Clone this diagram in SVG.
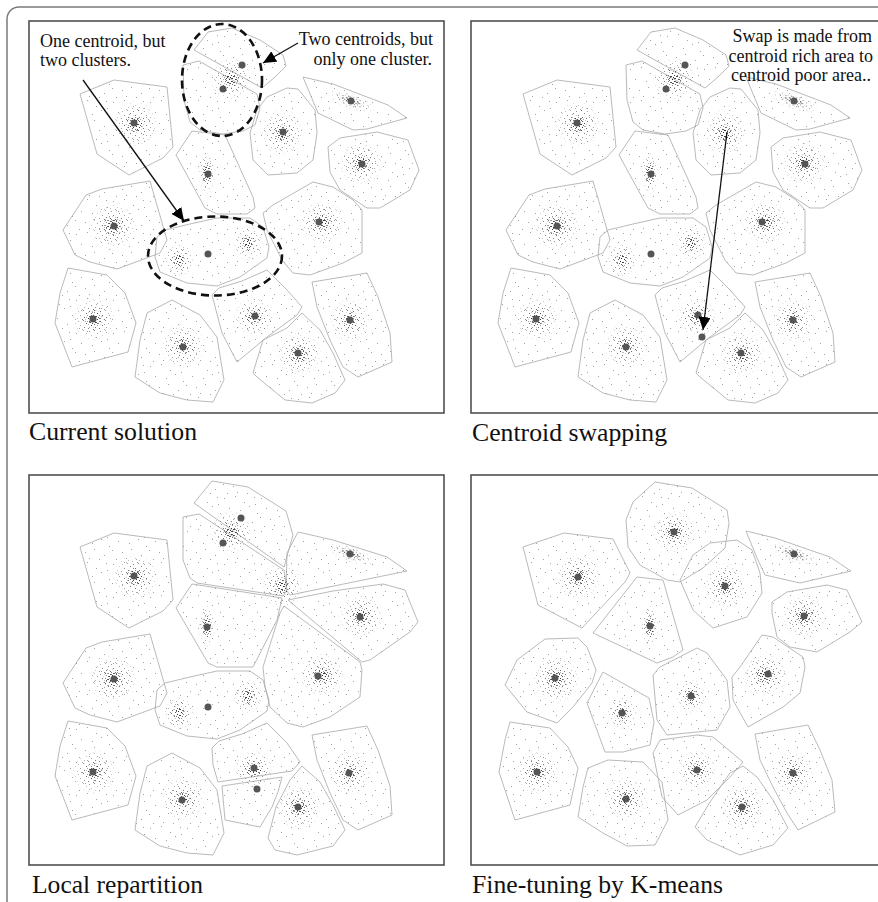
<svg xmlns="http://www.w3.org/2000/svg" xmlns:xlink="http://www.w3.org/1999/xlink" width="878" height="902" viewBox="0 0 878 902">
<style>
.outer{fill:none;stroke:#7a7a7a;stroke-width:1.5}
.panel{fill:#fff;stroke:#505050;stroke-width:1.6}
.cell{fill:url(#sp);stroke:#a8a8a8;stroke-width:0.8;stroke-linejoin:round}
.halo{fill:url(#md);mask:url(#fade)}
.core{fill:url(#dn);mask:url(#fade)}
.cen{fill:#555}
.lbl{font-family:"Liberation Serif","Times New Roman",serif;font-size:25.5px;fill:#111}
.ann{font-family:"Liberation Serif","Times New Roman",serif;font-size:18px;fill:#111}
.dash{fill:none;stroke:#111;stroke-width:2.6;stroke-dasharray:8 5}
.arr{fill:none;stroke:#111;stroke-width:1.3;marker-end:url(#ah)}
</style>
<defs>
<pattern id="sp" width="37" height="33" patternUnits="userSpaceOnUse">
<path fill="#a2a2a2" d="M2 3h1v1h-1zM13 1h1v1h-1zM22 7h1v1h-1zM32 2h1v1h-1zM7 13h1v1h-1zM18 15h1v1h-1zM27 11h1v1h-1zM35 18h1v1h-1zM1 22h1v1h-1zM11 24h1v1h-1zM20 21h1v1h-1zM30 27h1v1h-1zM5 31h1v1h-1zM15 30h1v1h-1zM25 31h1v1h-1zM33 9h1v1h-1z"/>
</pattern>
<pattern id="md" width="11" height="10" patternUnits="userSpaceOnUse">
<path fill="#555" d="M1 1h1v1h-1zM6 0h1v1h-1zM9 3h1v1h-1zM3 5h1v1h-1zM7 7h1v1h-1zM0 8h1v1h-1zM5 9h1v1h-1z"/>
</pattern>
<pattern id="dn" width="6" height="6" patternUnits="userSpaceOnUse">
<path fill="#222" d="M1 1h1v1h-1zM4 0h1v1h-1zM3 3h1v1h-1zM5 4h1v1h-1zM0 4h1v1h-1zM2 5h1v1h-1z"/>
</pattern>
<radialGradient id="fg">
<stop offset="0" stop-color="#fff" stop-opacity="1"/>
<stop offset="0.45" stop-color="#fff" stop-opacity="0.8"/>
<stop offset="1" stop-color="#fff" stop-opacity="0"/>
</radialGradient>
<mask id="fade" maskUnits="objectBoundingBox" maskContentUnits="objectBoundingBox" x="0" y="0" width="1" height="1">
<rect width="1" height="1" fill="url(#fg)"/>
</mask>
<marker id="ah" viewBox="0 0 13 12" refX="13" refY="6" markerWidth="13" markerHeight="12" markerUnits="userSpaceOnUse" orient="auto">
<path d="M0,0 L13,6 L0,12 z" fill="#000"/>
</marker>
<g id="blobs">
<ellipse class="halo" cx="231" cy="79" rx="22" ry="22"/><ellipse class="core" cx="231" cy="79" rx="10" ry="10"/>
<ellipse class="halo" cx="135" cy="124" rx="24" ry="24"/><ellipse class="core" cx="135" cy="124" rx="10" ry="10"/>
<ellipse class="halo" cx="207" cy="173" rx="9" ry="22"/><ellipse class="core" cx="207" cy="173" rx="6" ry="13"/>
<ellipse class="halo" cx="282" cy="133" rx="22" ry="24"/><ellipse class="core" cx="282" cy="133" rx="9" ry="10"/>
<ellipse class="halo" cx="351" cy="101" rx="26" ry="9" transform="rotate(20 351 101)"/><ellipse class="core" cx="351" cy="101" rx="13" ry="6" transform="rotate(20 351 101)"/>
<ellipse class="halo" cx="361" cy="163" rx="23" ry="23"/><ellipse class="core" cx="361" cy="163" rx="10" ry="10"/>
<ellipse class="halo" cx="322" cy="222" rx="24" ry="22"/><ellipse class="core" cx="322" cy="222" rx="11" ry="9"/>
<ellipse class="halo" cx="248" cy="243" rx="16" ry="18"/><ellipse class="core" cx="248" cy="243" rx="7" ry="9"/>
<ellipse class="halo" cx="113" cy="226" rx="25" ry="25"/><ellipse class="core" cx="113" cy="226" rx="11" ry="11"/>
<ellipse class="halo" cx="179" cy="260" rx="16" ry="18"/><ellipse class="core" cx="179" cy="260" rx="7" ry="9"/>
<ellipse class="halo" cx="94" cy="319" rx="23" ry="23"/><ellipse class="core" cx="94" cy="319" rx="10" ry="10"/>
<ellipse class="halo" cx="183" cy="346" rx="23" ry="23"/><ellipse class="core" cx="183" cy="346" rx="9" ry="9"/>
<ellipse class="halo" cx="254" cy="317" rx="21" ry="20"/><ellipse class="core" cx="254" cy="317" rx="10" ry="8"/>
<ellipse class="halo" cx="299" cy="354" rx="23" ry="23"/><ellipse class="core" cx="299" cy="354" rx="10" ry="10"/>
<ellipse class="halo" cx="350" cy="320" rx="21" ry="23"/><ellipse class="core" cx="350" cy="320" rx="8" ry="10"/>
</g>
<g id="cells12">
<polygon class="cell" points="80,94 114,80 167,87 173,147 163,158 129,175 97,154"/>
<polygon class="cell" points="194,50 208,32 232,28 260,40 283,55 286,66 275,77 262,88"/>
<polygon class="cell" points="183,65 199,61 257,94 260,108 255,125 243,131 222,134 200,130 190,122 184,100"/>
<polygon class="cell" points="176,155 192,131 225,135 253,197 255,208 247,214 217,214 205,208"/>
<polygon class="cell" points="257,110 267,97 287,88 298,89 315,110 317,133 313,160 297,173 268,175 253,160 250,133"/>
<polygon class="cell" points="303,77 333,84 388,105 407,118 367,129 353,130 318,113"/>
<polygon class="cell" points="328,147 340,138 377,132 408,140 419,170 410,190 380,208 367,208 340,190 330,172"/>
<polygon class="cell" points="263,213 273,205 313,182 333,187 353,200 362,210 362,253 343,263 310,275 293,273 282,260 267,230"/>
<polygon class="cell" points="63,230 86,195 102,189 150,181 167,240 160,253 117,269 90,262 75,255"/>
<polygon class="cell" points="157,237 165,230 190,224 217,218 250,218 263,227 269,247 267,258 240,277 217,286 187,283 160,272 155,257"/>
<polygon class="cell" points="68,268 107,275 125,293 136,323 128,352 72,367 55,323 60,293"/>
<polygon class="cell" points="147,313 172,300 200,315 217,337 224,380 213,402 187,400 160,393 135,377 140,340"/>
<polygon class="cell" points="212,295 219,288 242,281 267,270 287,290 302,307 297,315 267,337 237,362 222,333"/>
<polygon class="cell" points="253,373 263,340 287,328 302,313 320,330 333,353 345,380 335,393 312,403 285,400 257,377"/>
<polygon class="cell" points="312,282 367,273 378,297 390,333 392,362 358,377 343,367 330,340 317,307"/>
</g>
</defs>

<g id="outer-frame"><rect class="outer" x="7" y="7" width="885" height="910" rx="12"/></g>

<g id="panel-current">
<rect class="panel" x="29" y="21" width="415" height="392"/>
<use href="#cells12" xlink:href="#cells12"/>
<use href="#blobs" xlink:href="#blobs"/>
<g id="centroids-1">
<circle class="cen" cx="134" cy="123" r="3.5"/><circle class="cen" cx="242" cy="65" r="3.5"/><circle class="cen" cx="223" cy="89" r="3.5"/>
<circle class="cen" cx="208" cy="174" r="3.5"/><circle class="cen" cx="283" cy="132" r="3.5"/><circle class="cen" cx="351" cy="101" r="3.5"/>
<circle class="cen" cx="362" cy="164" r="3.5"/><circle class="cen" cx="319" cy="222" r="3.5"/><circle class="cen" cx="114" cy="226" r="3.5"/>
<circle class="cen" cx="208" cy="254" r="3.5"/><circle class="cen" cx="93" cy="319" r="3.5"/><circle class="cen" cx="183" cy="347" r="3.5"/>
<circle class="cen" cx="255" cy="316" r="3.5"/><circle class="cen" cx="298" cy="353" r="3.5"/><circle class="cen" cx="350" cy="320" r="3.5"/>
</g>
<ellipse id="ring-two-centroids" class="dash" cx="222" cy="80" rx="40" ry="56"/>
<ellipse id="ring-two-clusters" class="dash" cx="215" cy="256" rx="67" ry="39.5"/>
<text class="ann" x="40" y="47">One centroid, but</text>
<text class="ann" x="40" y="66">two clusters.</text>
<text class="ann" x="433" y="45" text-anchor="end">Two centroids, but</text>
<text class="ann" x="432" y="65" text-anchor="end">only one cluster.</text>
<text class="lbl" x="29" y="440" textLength="168" lengthAdjust="spacingAndGlyphs">Current solution</text>
</g>

<g id="panel-swap">
<rect class="panel" x="471" y="21" width="420" height="392"/>
<use href="#cells12" xlink:href="#cells12" transform="translate(443,0)"/>
<use href="#blobs" xlink:href="#blobs" transform="translate(443,0)"/>
<g id="centroids-2">
<circle class="cen" cx="577" cy="123" r="3.5"/><circle class="cen" cx="685" cy="65" r="3.5"/><circle class="cen" cx="666" cy="89" r="3.5"/>
<circle class="cen" cx="651" cy="174" r="3.5"/><circle class="cen" cx="794" cy="101" r="3.5"/>
<circle class="cen" cx="805" cy="164" r="3.5"/><circle class="cen" cx="762" cy="222" r="3.5"/><circle class="cen" cx="557" cy="226" r="3.5"/>
<circle class="cen" cx="651" cy="254" r="3.5"/><circle class="cen" cx="536" cy="319" r="3.5"/><circle class="cen" cx="626" cy="347" r="3.5"/>
<circle class="cen" cx="698" cy="315" r="3.5"/><circle class="cen" cx="741" cy="353" r="3.5"/><circle class="cen" cx="793" cy="320" r="3.5"/>
<circle class="cen" cx="702" cy="337" r="3.5"/>
</g>
<text class="ann" x="872" y="42" text-anchor="end">Swap is made from</text>
<text class="ann" x="873" y="62" text-anchor="end">centroid rich area to</text>
<text class="ann" x="871" y="81" text-anchor="end">centroid poor area..</text>
<text class="lbl" x="472" y="441" textLength="195" lengthAdjust="spacingAndGlyphs">Centroid swapping</text>
</g>

<g id="panel-local">
<rect class="panel" x="29" y="475" width="415" height="390"/>
<g id="cells3">
<polygon class="cell" points="80,547 114,533 167,540 173,600 163,611 129,628 97,607"/>
<polygon class="cell" points="194,503 212,481 248,487 286,511 293,535 284,567"/>
<polygon class="cell" points="183,517 199,514 284,570 287,590 283,596 197,583 190,578 183,560"/>
<polygon class="cell" points="176,608 192,584 282,598 277,620 253,667 217,667 208,663"/>
<polygon class="cell" points="298,532 333,540 387,557 407,571 290,595 286,590 287,553"/>
<polygon class="cell" points="288,600 333,591 383,584 405,590 418,622 410,632 370,660 362,662"/>
<polygon class="cell" points="263,667 280,613 284,606 360,662 362,670 360,697 330,717 303,727 287,723 270,707 265,687"/>
<polygon class="cell" points="63,683 86,648 102,642 150,634 167,693 160,706 117,722 90,715 75,708"/>
<polygon class="cell" points="157,690 165,683 190,677 217,671 250,671 263,680 269,700 267,711 240,730 217,739 187,736 160,725 155,710"/>
<polygon class="cell" points="68,721 107,728 125,746 136,776 128,805 72,820 55,776 60,746"/>
<polygon class="cell" points="147,766 172,753 200,768 217,790 224,833 213,855 187,853 160,846 135,830 140,793"/>
<polygon class="cell" points="212,748 219,741 242,734 267,723 287,743 300,762 292,771 218,782 213,765"/>
<polygon class="cell" points="222,786 282,777 278,792 272,807 260,827 225,820"/>
<polygon class="cell" points="268,838 276,807 290,780 302,766 320,782 333,805 345,830 333,846 297,855 275,850"/>
<polygon class="cell" points="312,735 367,726 378,750 390,786 392,815 358,830 343,820 330,793 317,760"/>
</g>
<use href="#blobs" xlink:href="#blobs" transform="translate(0,453)"/>
<g id="centroids-3">
<circle class="cen" cx="134" cy="576" r="3.5"/><circle class="cen" cx="241" cy="518" r="3.5"/><circle class="cen" cx="223" cy="543" r="3.5"/>
<circle class="cen" cx="207" cy="627" r="3.5"/><circle class="cen" cx="350" cy="554" r="3.5"/><circle class="cen" cx="360" cy="617" r="3.5"/>
<circle class="cen" cx="318" cy="676" r="3.5"/><circle class="cen" cx="114" cy="679" r="3.5"/><circle class="cen" cx="208" cy="707" r="3.5"/>
<circle class="cen" cx="93" cy="772" r="3.5"/><circle class="cen" cx="182" cy="800" r="3.5"/><circle class="cen" cx="254" cy="768" r="3.5"/>
<circle class="cen" cx="257" cy="789" r="3.5"/><circle class="cen" cx="298" cy="807" r="3.5"/><circle class="cen" cx="349" cy="773" r="3.5"/>
</g>
<text class="lbl" x="32" y="893" textLength="171" lengthAdjust="spacingAndGlyphs">Local repartition</text>
</g>

<g id="panel-kmeans">
<rect class="panel" x="471" y="475" width="420" height="390"/>
<g id="cells4">
<polygon class="cell" points="626,520 633,502 655,482 692,488 727,510 729,523 725,548 703,568 680,582 667,580 640,565 628,547"/>
<polygon class="cell" points="523,547 564,533 613,539 630,573 625,582 582,628 538,605"/>
<polygon class="cell" points="593,633 637,577 663,580 683,650 673,657 657,663"/>
<polygon class="cell" points="680,580 693,555 710,543 737,540 752,550 760,573 762,593 747,617 713,628 693,610"/>
<polygon class="cell" points="746,531 775,538 830,557 851,571 800,583 765,575 757,558"/>
<polygon class="cell" points="772,602 787,592 827,585 847,590 862,622 850,632 817,652 790,647 777,637 772,613"/>
<polygon class="cell" points="732,677 740,667 762,635 773,637 803,657 805,667 800,693 783,707 748,727 733,700"/>
<polygon class="cell" points="653,675 660,667 697,648 707,653 727,680 730,707 717,730 667,735 657,720"/>
<polygon class="cell" points="505,685 517,660 545,639 578,638 587,647 596,670 592,683 573,707 557,723 527,712"/>
<polygon class="cell" points="587,703 603,672 649,698 654,722 650,745 623,752 605,752"/>
<polygon class="cell" points="510,722 550,728 568,747 578,768 570,805 515,820 499,772 505,740"/>
<polygon class="cell" points="588,768 608,760 643,762 662,782 668,820 655,845 627,846 603,833 578,817 583,787"/>
<polygon class="cell" points="653,753 660,740 697,735 713,737 743,762 730,777 707,800 678,815 662,797"/>
<polygon class="cell" points="695,827 710,802 730,773 743,766 757,777 773,800 788,828 773,845 740,855 707,840"/>
<polygon class="cell" points="755,734 808,725 820,750 832,780 835,812 798,830 787,813 773,787 760,760"/>
</g>
<use href="#blobs" xlink:href="#blobs" transform="translate(443,453)"/>
<g id="centroids-4">
<circle class="cen" cx="674" cy="532" r="3.5"/><circle class="cen" cx="578" cy="577" r="3.5"/><circle class="cen" cx="650" cy="626" r="3.5"/>
<circle class="cen" cx="725" cy="586" r="3.5"/><circle class="cen" cx="794" cy="554" r="3.5"/><circle class="cen" cx="804" cy="616" r="3.5"/>
<circle class="cen" cx="768" cy="674" r="3.5"/><circle class="cen" cx="691" cy="696" r="3.5"/><circle class="cen" cx="555" cy="678" r="3.5"/>
<circle class="cen" cx="622" cy="713" r="3.5"/><circle class="cen" cx="537" cy="772" r="3.5"/><circle class="cen" cx="626" cy="799" r="3.5"/>
<circle class="cen" cx="697" cy="770" r="3.5"/><circle class="cen" cx="742" cy="807" r="3.5"/><circle class="cen" cx="793" cy="773" r="3.5"/>
</g>
<text class="lbl" x="472" y="893" textLength="251" lengthAdjust="spacingAndGlyphs">Fine-tuning by K-means</text>
</g>

<g id="connectors">
<line class="arr" x1="83" y1="80" x2="184" y2="221"/>
<line class="arr" x1="298" y1="43" x2="263" y2="63"/>
<line class="arr" x1="727" y1="132" x2="703" y2="330"/>
</g>
</svg>
